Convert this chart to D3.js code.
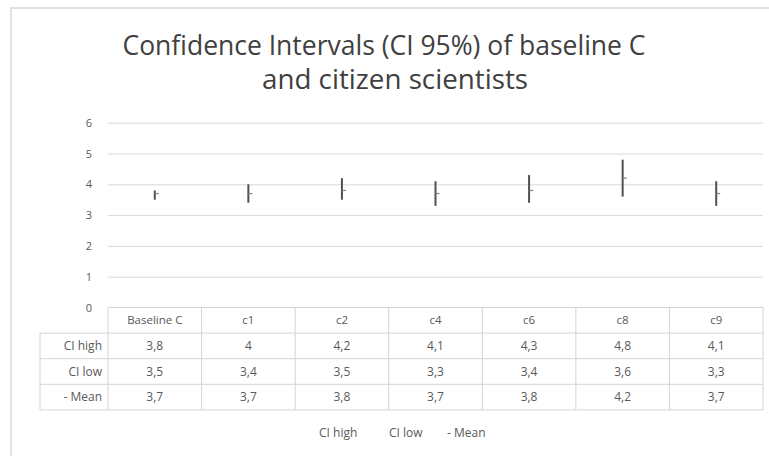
<!DOCTYPE html>
<html>
<head>
<meta charset="utf-8">
<script src="https://cdn.jsdelivr.net/npm/d3@7"></script>
<style>
  body { margin: 0; background: #fff; }
  text { font-family: "Open Sans", "DejaVu Sans", sans-serif; fill: #595959; }
</style>
</head>
<body>
<script>
// chart data
var categories = ["Baseline C", "c1", "c2", "c4", "c6", "c8", "c9"];
var ciHigh = [3.8, 4, 4.2, 4.1, 4.3, 4.8, 4.1];
var ciLow = [3.5, 3.4, 3.5, 3.3, 3.4, 3.6, 3.3];
var mean = [3.7, 3.7, 3.8, 3.7, 3.8, 4.2, 3.7];
var yTicks = [0, 1, 2, 3, 4, 5, 6];
var rowNames = ["CI high", "CI low", "- Mean"];
var titleLines = ["Confidence Intervals (CI 95%) of baseline C", "and citizen scientists"];

var w = 769, h = 456;
var plotLeft = 108, plotRight = 763, plotTop = 122.7, plotBottom = 307.5;
var labelColLeft = 40;
var rowH = 25.6;

var svg = d3.select("body").append("svg")
  .attr("width", w)
  .attr("height", h);

// chart area border
svg.append("rect")
  .attr("x", 11).attr("y", 8)
  .attr("width", 780).attr("height", 470)
  .attr("fill", "#fff")
  .attr("stroke", "#e0e0e0")
  .attr("stroke-width", 2);

// title
svg.append("text")
  .attr("x", 384).attr("y", 55)
  .attr("text-anchor", "middle")
  .attr("font-size", 27)
  .attr("textLength", 523)
  .attr("lengthAdjust", "spacingAndGlyphs")
  .style("fill", "#404040")
  .text(titleLines[0]);
svg.append("text")
  .attr("x", 395).attr("y", 89)
  .attr("text-anchor", "middle")
  .attr("font-size", 27)
  .attr("textLength", 266)
  .attr("lengthAdjust", "spacingAndGlyphs")
  .style("fill", "#404040")
  .text(titleLines[1]);

var x = d3.scaleBand()
  .domain(categories)
  .range([plotLeft, plotRight]);

var y = d3.scaleLinear()
  .domain([0, 6])
  .range([plotBottom, plotTop]);

// y axis with gridlines
var yAxis = svg.append("g")
  .attr("transform", "translate(" + plotLeft + ",0)")
  .call(d3.axisLeft(y)
    .tickValues(yTicks)
    .tickFormat(d3.format("d"))
    .tickSize(-(plotRight - plotLeft))
    .tickPadding(16));
yAxis.select(".domain").remove();
yAxis.selectAll(".tick line")
  .attr("stroke", "#d9d9d9");
yAxis.selectAll(".tick").filter(function(d){ return d === 0; }).select("line").remove();
yAxis.selectAll(".tick text")
  .attr("font-size", 11)
  .attr("font-family", null)
  .style("fill", "#595959");

// high-low lines
var marks = svg.append("g");
marks.selectAll(".hl")
  .data(categories)
  .enter().append("line")
  .classed("hl", true)
  .attr("x1", function(d){ return x(d) + x.bandwidth() / 2; })
  .attr("x2", function(d){ return x(d) + x.bandwidth() / 2; })
  .attr("y1", function(d, i){ return y(ciHigh[i]); })
  .attr("y2", function(d, i){ return y(ciLow[i]); })
  .attr("stroke", "#505050")
  .attr("stroke-width", 2);

// mean dash markers
marks.selectAll(".mean")
  .data(categories)
  .enter().append("line")
  .classed("mean", true)
  .attr("x1", function(d){ return x(d) + x.bandwidth() / 2; })
  .attr("x2", function(d){ return x(d) + x.bandwidth() / 2 + 4; })
  .attr("y1", function(d, i){ return y(mean[i]); })
  .attr("y2", function(d, i){ return y(mean[i]); })
  .attr("stroke", "#808080")
  .attr("stroke-width", 1.2);

// data table
var table = svg.append("g");
var rows = [ciHigh, ciLow, mean];
var tableBottom = plotBottom + rowH * 4;
var stroke = "#d4d4d4";

// horizontal lines
table.append("line")
  .attr("x1", plotLeft).attr("x2", plotRight)
  .attr("y1", plotBottom).attr("y2", plotBottom)
  .attr("stroke", stroke);
[1, 2, 3, 4].forEach(function(r){
  table.append("line")
    .attr("x1", labelColLeft).attr("x2", plotRight)
    .attr("y1", plotBottom + rowH * r).attr("y2", plotBottom + rowH * r)
    .attr("stroke", stroke);
});
// vertical lines
table.append("line")
  .attr("x1", labelColLeft).attr("x2", labelColLeft)
  .attr("y1", plotBottom + rowH).attr("y2", tableBottom)
  .attr("stroke", stroke);
categories.concat([null]).forEach(function(c){
  var xx = c === null ? plotRight : x(c);
  table.append("line")
    .attr("x1", xx).attr("x2", xx)
    .attr("y1", plotBottom).attr("y2", tableBottom)
    .attr("stroke", stroke);
});

// header labels
table.selectAll(".head")
  .data(categories)
  .enter().append("text")
  .classed("head", true)
  .attr("x", function(d){ return x(d) + x.bandwidth() / 2; })
  .attr("y", plotBottom + rowH / 2)
  .attr("dy", "0.35em")
  .attr("text-anchor", "middle")
  .attr("font-size", 11.5)
  .text(function(d){ return d; });

// row labels and values
rows.forEach(function(vals, r){
  var cy = plotBottom + rowH * (r + 1) + rowH / 2;
  table.append("text")
    .attr("x", 102)
    .attr("y", cy)
    .attr("dy", "0.35em")
    .attr("text-anchor", "end")
    .attr("font-size", 12)
    .text(rowNames[r]);
  table.selectAll(".v" + r)
    .data(vals)
    .enter().append("text")
    .classed("v" + r, true)
    .attr("x", function(d, i){ return x(categories[i]) + x.bandwidth() / 2; })
    .attr("y", cy)
    .attr("dy", "0.35em")
    .attr("text-anchor", "middle")
    .attr("font-size", 12)
    .text(function(d){ return String(d).replace(".", ","); });
});

// legend
var legendX = [319, 389, 447];
svg.selectAll(".legend")
  .data(rowNames)
  .enter().append("text")
  .classed("legend", true)
  .attr("x", function(d, i){ return legendX[i]; })
  .attr("y", 433)
  .attr("dy", "0.35em")
  .attr("font-size", 12)
  .text(function(d){ return d; });
</script>
</body>
</html>
